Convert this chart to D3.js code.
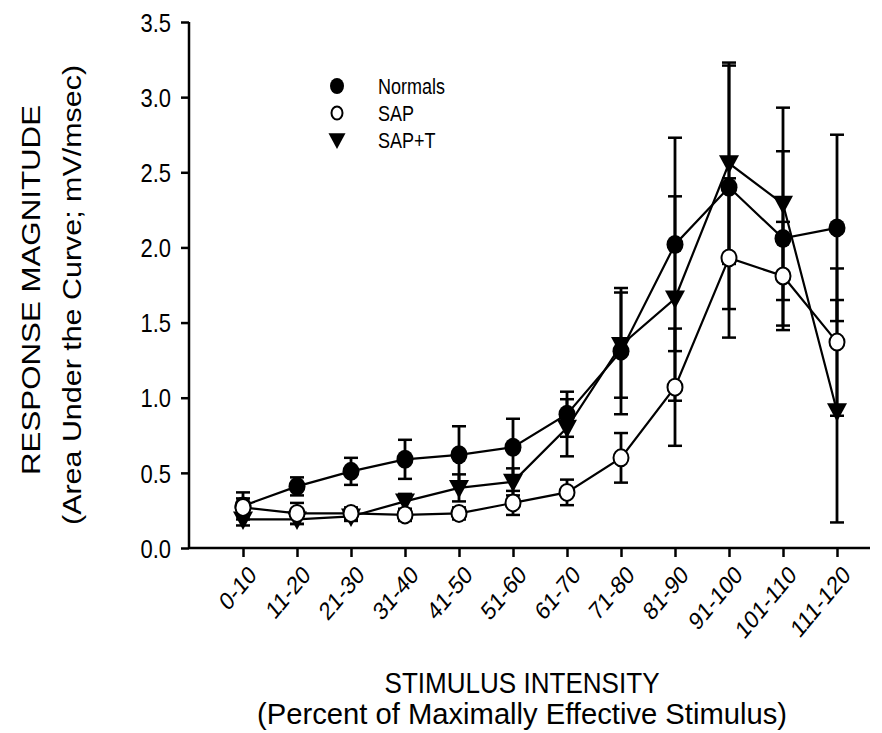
<!DOCTYPE html>
<html>
<head>
<meta charset="utf-8">
<script src="https://cdn.jsdelivr.net/npm/d3@7"></script>
<style>
  html, body { margin: 0; padding: 0; background: #fff; }
  svg { display: block; font-family: "Liberation Sans", Arial, Helvetica, sans-serif; }
</style>
</head>
<body>
<svg id="chart" width="882" height="733"></svg>
<script>
const categories = ["0-10","11-20","21-30","31-40","41-50","51-60","61-70","71-80","81-90","91-100","101-110","111-120"];
const yTicks = [0, 0.5, 1.0, 1.5, 2.0, 2.5, 3.0, 3.5];

const normals    = [0.28, 0.41, 0.51, 0.59, 0.62, 0.67, 0.89, 1.31, 2.02, 2.40, 2.06, 2.13];
const normalsErr = [0.09, 0.06, 0.09, 0.13, 0.19, 0.19, 0.15, 0.42, 0.71, 0.81, 0.58, 0.62];
const sap        = [0.27, 0.23, 0.23, 0.22, 0.23, 0.30, 0.37, 0.60, 1.07, 1.93, 1.81, 1.37];
const sapErr     = [0.06, 0.07, 0.04, 0.04, 0.04, 0.08, 0.085, 0.165, 0.39, 0.53, 0.36, 0.49];
const sapT       = [0.19, 0.19, 0.21, 0.31, 0.40, 0.44, 0.80, 1.35, 1.66, 2.56, 2.29, 0.91];
const sapTErr    = [0.04, 0.03, 0.03, 0.05, 0.09, 0.09, 0.19, 0.35, 0.68, 0.67, 0.64, 0.74];

const seriesNames = ["Normals", "SAP", "SAP+T"];

const svg = d3.select("#chart");
const font = "Liberation Sans, Arial, Helvetica, sans-serif";
const stretch = 1.2;

const axisLeft = 189, axisRight = 870, axisBottom = 548, axisTop = 22;
const x = d3.scalePoint().domain(categories).range([243, 837]);
const y = d3.scaleLinear().domain([0, 3.5]).range([axisBottom, axisTop]);

// Y axis
const yAxis = d3.axisLeft(y).tickValues(yTicks).tickFormat(d3.format(".1f")).tickSize(8).tickPadding(10);
const gy = svg.append("g").attr("transform", `translate(${axisLeft},0)`).call(yAxis);
gy.select(".domain").attr("stroke", "#000").attr("stroke-width", 2.5).attr("d", `M0,${axisTop}V${axisBottom}`);
gy.selectAll(".tick line").attr("stroke", "#000").attr("stroke-width", 2.5);
gy.selectAll(".tick text").attr("font-size", 22).attr("font-family", font).attr("fill", "#000")
  .attr("x", -18).attr("dy", "0.35em")
  .attr("transform", `scale(1,${stretch})`);

// X axis
const xAxis = d3.axisBottom(x).tickSize(9).tickSizeOuter(0);
const gx = svg.append("g").attr("transform", `translate(0,${axisBottom})`).call(xAxis);
gx.select(".domain").attr("stroke", "#000").attr("stroke-width", 2.5).attr("d", `M${axisLeft},0H${axisRight}`);
gx.selectAll(".tick line").attr("stroke", "#000").attr("stroke-width", 2.5);
gx.selectAll(".tick text")
  .attr("font-size", 21).attr("font-family", font).attr("fill", "#000")
  .attr("text-anchor", "end")
  .attr("x", 0).attr("y", 0).attr("dy", "0.35em")
  .attr("transform", `translate(9,22) scale(1,${stretch}) rotate(-45)`);

// Axis titles
function title(tx, ty, rot, len, size, txt) {
  svg.append("text")
    .attr("transform", `translate(${tx},${ty}) scale(1,${stretch})` + (rot ? " rotate(-90)" : ""))
    .attr("text-anchor", "middle")
    .attr("font-size", size).attr("font-family", font)
    .attr("textLength", len).attr("lengthAdjust", "spacingAndGlyphs")
    .text(txt);
}
title(522, 693, false, 275, 25, "STIMULUS INTENSITY");
title(522, 724, false, 530, 25, "(Percent of Maximally Effective Stimulus)");
title(40, 290, true, 370 / stretch, 26, "RESPONSE MAGNITUDE");
title(81, 295, true, 460 / stretch, 26, "(Area Under the Curve; mV/msec)");

const seriesData = [
  { name: "Normals", vals: normals, err: normalsErr, type: "filled" },
  { name: "SAP+T", vals: sapT, err: sapTErr, type: "tri" },
  { name: "SAP", vals: sap, err: sapErr, type: "open" }
];

const capW = 7;
const line = d3.line().x(d => x(d.c)).y(d => y(d.v));
const triPath = (cx, cy, s) => `M${cx - s},${cy - s * 0.8}L${cx + s},${cy - s * 0.8}L${cx},${cy + s * 1.05}Z`;

function drawMarker(g, type, cx, cy) {
  if (type === "filled") {
    g.append("ellipse").attr("cx", cx).attr("cy", cy).attr("rx", 8.5).attr("ry", 9.5).attr("fill", "#000");
  } else if (type === "open") {
    g.append("ellipse").attr("cx", cx).attr("cy", cy).attr("rx", 7.5).attr("ry", 8.5).attr("fill", "#fff").attr("stroke", "#000").attr("stroke-width", 2);
  } else {
    g.append("path").attr("d", triPath(cx, cy, 10)).attr("fill", "#000");
  }
}

// Error bars
seriesData.forEach(s => {
  const g = svg.append("g");
  categories.forEach((c, i) => {
    const cx = x(c), hi = y(s.vals[i] + s.err[i]), lo = y(Math.max(0, s.vals[i] - s.err[i]));
    g.append("line").attr("x1", cx).attr("x2", cx).attr("y1", hi).attr("y2", lo).attr("stroke", "#000").attr("stroke-width", 2.8);
    [hi, lo].forEach(yy => g.append("line").attr("x1", cx - capW).attr("x2", cx + capW).attr("y1", yy).attr("y2", yy).attr("stroke", "#000").attr("stroke-width", 2.5));
  });
});

// Lines
seriesData.forEach(s => {
  svg.append("path")
    .datum(categories.map((c, i) => ({ c, v: s.vals[i] })))
    .attr("d", line).attr("fill", "none").attr("stroke", "#000").attr("stroke-width", 2.2);
});

// Markers
seriesData.forEach(s => {
  const g = svg.append("g");
  categories.forEach((c, i) => drawMarker(g, s.type, x(c), y(s.vals[i])));
});

// Legend
const legendItems = [
  { name: "Normals", type: "filled" },
  { name: "SAP", type: "open" },
  { name: "SAP+T", type: "tri" }
];
const lg = svg.append("g");
legendItems.forEach((d, i) => {
  const yy = 86 + i * 27;
  if (d.type === "filled") lg.append("ellipse").attr("cx", 337).attr("cy", yy).attr("rx", 7).attr("ry", 8).attr("fill", "#000");
  else if (d.type === "open") lg.append("ellipse").attr("cx", 337).attr("cy", yy).attr("rx", 5.5).attr("ry", 6.5).attr("fill", "#fff").attr("stroke", "#000").attr("stroke-width", 2);
  else lg.append("path").attr("d", triPath(337, yy, 8.5)).attr("fill", "#000");
  lg.append("text").attr("transform", `translate(378,${yy}) scale(1,${stretch})`).attr("dy", "0.35em")
    .attr("font-size", 18).attr("font-family", font).text(d.name);
});
</script>
</body>
</html>
